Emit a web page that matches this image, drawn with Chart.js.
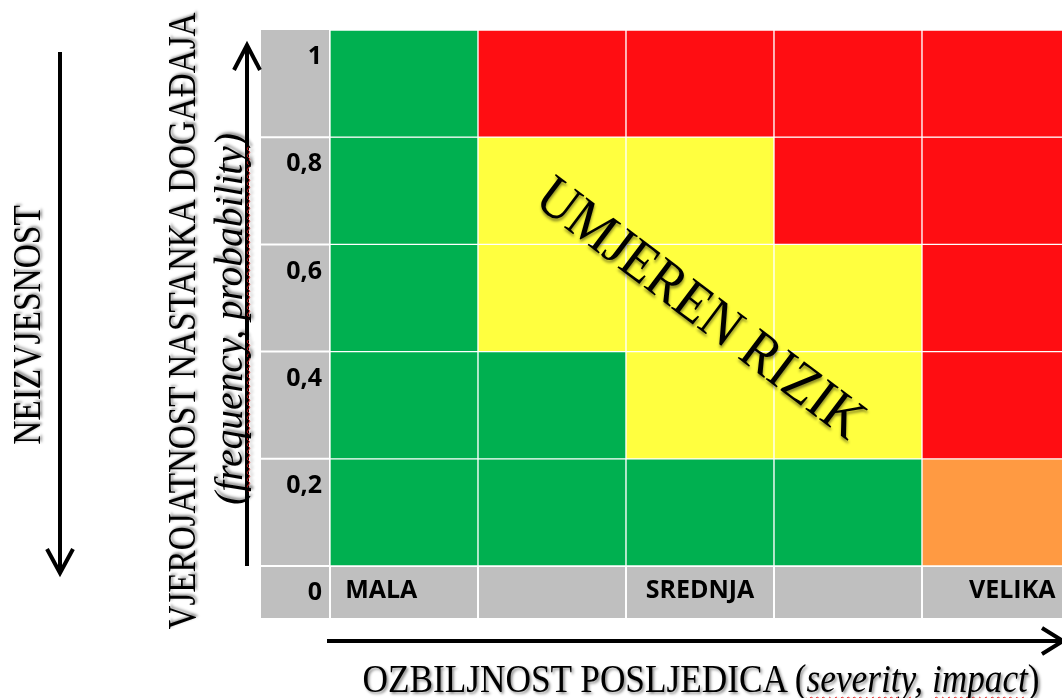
<!DOCTYPE html>
<html>
<head>
<meta charset="utf-8">
<script src="https://cdn.jsdelivr.net/npm/chart.js@4.4.0/dist/chart.umd.min.js"></script>
<style>
  html, body { margin: 0; padding: 0; background: #fff; overflow: hidden; }
  #wrap { position: relative; width: 1072px; height: 698px; }
  #riskChart { position: absolute; left: 0; top: 0; }
  svg { position: absolute; left: 0; top: 0; }
  .txt {
    position: absolute;
    font-family: 'Liberation Serif', serif;
    font-size: 40px;
    line-height: 1.2;
    color: #000;
    white-space: nowrap;
    text-shadow: 2px 2px 3px rgba(0, 0, 0, 0.45);
    transform-origin: center center;
  }
  .it { font-style: italic; }
  .sp { text-decoration: underline wavy #e02020; text-decoration-thickness: 1px; text-underline-offset: 4px; text-decoration-skip-ink: none; }
</style>
</head>
<body>
<div id="wrap">
  <canvas id="riskChart" width="1072" height="698"></canvas>
  <svg width="1072" height="698">
    <g stroke="#000" stroke-width="4" fill="none" stroke-linecap="butt">
      <line x1="60" y1="52" x2="60" y2="572"/>
      <polyline points="47,549 60,573 73,549"/>
      <line x1="247" y1="566" x2="247" y2="46"/>
      <polyline points="234,70 247,45 260,70"/>
      <line x1="327" y1="641" x2="1060" y2="641"/>
      <polyline points="1042,628 1063,641 1042,654"/>
    </g>
  </svg>
  <div class="txt" id="tUncert">NEIZVJESNOST</div>
  <div class="txt" id="tProb">VJEROJATNOST NASTANKA DOGAĐAJA</div>
  <div class="txt it" id="tProbEn">(<span class="sp">frequency</span>, <span class="sp">probability</span>)</div>
  <div class="txt" id="tSev">OZBILJNOST POSLJEDICA (<span class="it"><span class="sp">severity</span>, <span class="sp">impact</span></span>)</div>
  <div class="txt" id="tMid" style="font-size:57px">UMJEREN RIZIK</div>
</div>

<script>
// probability ticks (bottom to top) and severity categories
const probSteps = [0, 0.2, 0.4, 0.6, 0.8, 1];
const probLabels = ['0', '0,2', '0,4', '0,6', '0,8', '1'];
const severityLabels = ['MALA', '', 'SREDNJA', '', 'VELIKA'];

// risk level per cell, row 0-0,2 first: 0 low, 1 moderate, 2 high, 3 elevated
const riskRows = [
    [0, 0, 0, 0, 3],
    [0, 0, 1, 1, 2],
    [0, 1, 1, 1, 2],
    [0, 1, 1, 2, 2],
    [0, 2, 2, 2, 2]
];

const riskColors = ['#00b050', '#ffff3f', '#ff0d12', '#ff9a42'];
const GRAY = '#bfbfbf';
const labelFont = { family: '"Open Sans", Lato, sans-serif', size: 25, weight: 'bold' };

const cells = [];
riskRows.forEach((row, r) => {
    row.forEach((level, c) => {
        cells.push({
            x: [c, c + 1],
            y: (probSteps[r] + probSteps[r + 1]) / 2,
            level: level
        });
    });
});

// gray label column / row behind the axes, with white separators
const axisFrame = {
    id: 'axisFrame',
    beforeDraw(chart) {
        const { ctx, chartArea: area, scales: { x, y } } = chart;
        ctx.save();
        ctx.fillStyle = GRAY;
        ctx.fillRect(y.left, area.top, area.right - y.left, x.bottom - area.top);
        ctx.strokeStyle = '#fff';
        ctx.lineWidth = 2;
        ctx.beginPath();
        y.ticks.forEach(t => {
            const py = y.getPixelForValue(t.value);
            if (py <= area.top + 1) return;
            ctx.moveTo(y.left, py);
            ctx.lineTo(area.left, py);
        });
        x.ticks.forEach(t => {
            const px = x.getPixelForValue(t.value);
            ctx.moveTo(px, area.bottom);
            ctx.lineTo(px, x.bottom);
        });
        ctx.moveTo(y.left, area.bottom);
        ctx.lineTo(area.right, area.bottom);
        ctx.moveTo(area.left, area.top);
        ctx.lineTo(area.left, x.bottom);
        ctx.stroke();
        ctx.restore();
    }
};

function noPadding(scale) {
    scale.paddingTop = 0;
    scale.paddingBottom = 0;
    scale.paddingLeft = 0;
    scale.paddingRight = 0;
}

// first severity label sits left in its cell, last one right (like the sheet)
function severityTick(i) {
    const label = severityLabels[i] || '';
    const pad = '\u00a0'.repeat(7);
    if (i === 0) return label + pad;
    if (i === severityLabels.length - 1) return '\u00a0'.repeat(5) + label;
    return label;
}

const ctx = document.getElementById('riskChart').getContext('2d');
new Chart(ctx, {
    type: 'bar',
    data: {
        datasets: [{
            data: cells,
            backgroundColor: cells.map(c => riskColors[c.level]),
            borderColor: '#ffffff',
            borderWidth: 1,
            borderSkipped: false,
            barPercentage: 1,
            categoryPercentage: 1
        }]
    },
    options: {
        indexAxis: 'y',
        responsive: false,
        animation: false,
        layout: { padding: { left: 261, top: 30, right: 2, bottom: 80 } },
        plugins: { legend: { display: false }, tooltip: { enabled: false } },
        scales: {
            y: {
                type: 'linear',
                min: 0,
                max: 1,
                offset: false,
                grid: { display: false, drawTicks: false },
                border: { display: false },
                afterFit: scale => { scale.width = 69; noPadding(scale); },
                ticks: {
                    stepSize: 0.2,
                    autoSkip: false,
                    padding: 8,
                    labelOffset: 27,
                    color: '#000',
                    font: labelFont,
                    callback: (value, i) => probLabels[i]
                }
            },
            x: {
                type: 'linear',
                min: 0,
                max: severityLabels.length,
                offset: false,
                grid: { display: false, drawTicks: false },
                border: { display: false },
                afterFit: scale => { scale.height = 52; noPadding(scale); },
                ticks: {
                    stepSize: 1,
                    autoSkip: false,
                    maxRotation: 0,
                    padding: 10,
                    labelOffset: 74,
                    color: '#000',
                    font: labelFont,
                    callback: (value, i) => severityTick(i)
                }
            }
        }
    },
    plugins: [axisFrame]
});

function placeText(id, cx, cy, len, deg) {
    const el = document.getElementById(id);
    const w = el.offsetWidth, h = el.offsetHeight;
    el.style.left = (cx - w / 2) + 'px';
    el.style.top = (cy - h / 2) + 'px';
    el.style.transform = 'rotate(' + deg + 'deg) scaleX(' + (len / w) + ')';
}

placeText('tUncert', 27, 325, 240, -90);
placeText('tProb', 181, 321, 617, -90);
placeText('tProbEn', 229, 319, 372, -90);
placeText('tSev', 701, 679, 677, 0);
placeText('tMid', 701, 307, 395, 37);
</script>
</body>
</html>
